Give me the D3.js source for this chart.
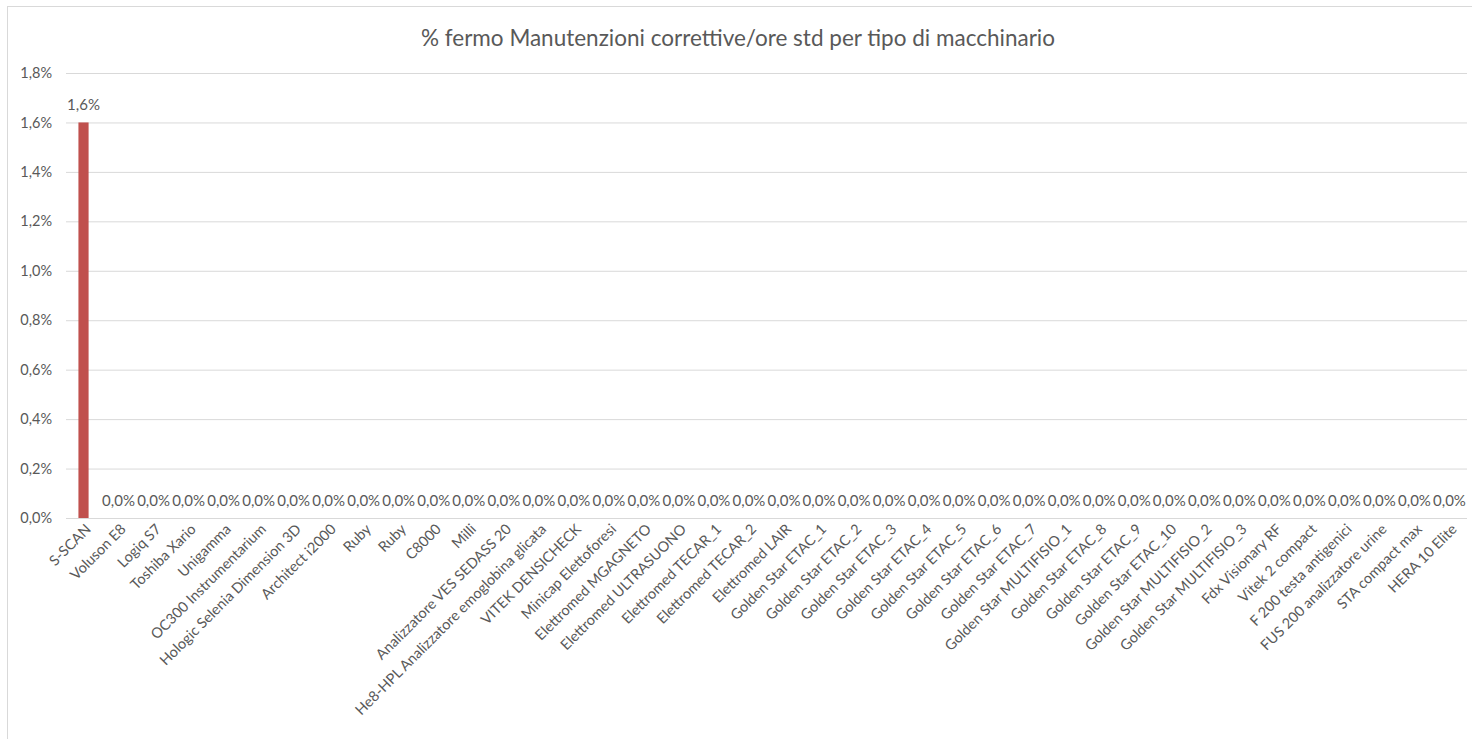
<!DOCTYPE html>
<head>
  <meta charset="utf-8">
  <script src="https://d3js.org/d3.v7.min.js"></script>
  <style>
  body { margin: 0; background: #fff; }
  text { font-family: Lato, "Open Sans", sans-serif; fill: #595959; }
  .grid line { stroke: #d9d9d9; stroke-width: 1px; }
  .tick text { font-size: 14.5px; }
  </style>
</head>
<body>
  <script>
    // chart data
    var title = "% fermo Manutenzioni correttive/ore std per tipo di macchinario";
    var machines = ["S-SCAN", "Voluson E8", "Logiq S7", "Toshiba Xario", "Unigamma",
      "OC300 Instrumentarium", "Hologic Selenia Dimension 3D", "Architect i2000", "Ruby", "Ruby",
      "C8000", "Milli", "Analizzatore VES SEDASS 20", "He8-HPL Analizzatore emoglobina glicata",
      "VITEK DENSICHECK", "Minicap Elettoforesi", "Elettromed MGAGNETO", "Elettromed ULTRASUONO",
      "Elettromed TECAR_1", "Elettromed TECAR_2", "Elettromed LAIR", "Golden Star ETAC_1",
      "Golden Star ETAC_2", "Golden Star ETAC_3", "Golden Star ETAC_4", "Golden Star ETAC_5",
      "Golden Star ETAC_6", "Golden Star ETAC_7", "Golden Star MULTIFISIO_1", "Golden Star ETAC_8",
      "Golden Star ETAC_9", "Golden Star ETAC_10", "Golden Star MULTIFISIO_2", "Golden Star MULTIFISIO_3",
      "Fdx Visionary RF", "Vitek 2 compact", "F 200 testa antigenici", "FUS 200 analizzatore urine",
      "STA compact max", "HERA 10 Elite"];
    var fermo = [0.016, 0, 0, 0, 0, 0, 0, 0, 0, 0, 0, 0, 0, 0, 0, 0, 0, 0, 0, 0,
      0, 0, 0, 0, 0, 0, 0, 0, 0, 0, 0, 0, 0, 0, 0, 0, 0, 0, 0, 0];
    var yTicks = [0, 0.002, 0.004, 0.006, 0.008, 0.010, 0.012, 0.014, 0.016, 0.018];

    var W = 1472, H = 739;
    var margin = {top: 73, right: 5, bottom: 221, left: 66};
    var width = W - margin.left - margin.right,
        height = H - margin.top - margin.bottom;

    var fmt = function(v) { return d3.format(".1%")(v).replace(".", ","); };

    var svg = d3.select("body").append("svg")
      .attr("width", W).attr("height", H);

    // chart border
    svg.append("rect")
      .attr("x", 7.5).attr("y", 6.5)
      .attr("width", W).attr("height", H + 20)
      .attr("fill", "none").attr("stroke", "#d9d9d9");

    svg.append("text")
      .attr("x", W / 2 + 2).attr("y", 46)
      .attr("text-anchor", "middle")
      .style("font-size", "22.5px")
      .text(title);

    var g = svg.append("g")
      .attr("transform", "translate(" + margin.left + "," + margin.top + ")");

    var xScale = d3.scaleBand()
      .domain(d3.range(machines.length))
      .range([0, width])
      .paddingInner(0.71).paddingOuter(0.355);

    var yScale = d3.scaleLinear()
      .domain([0, 0.018])
      .range([height, 0]);

    // gridlines + y labels
    var yAxis = g.append("g")
      .attr("class", "grid")
      .call(d3.axisLeft(yScale).tickValues(yTicks).tickSize(-width).tickPadding(14).tickFormat(fmt));
    yAxis.select(".domain").remove();
    yAxis.selectAll(".tick line").attr("stroke", "#d9d9d9");
    yAxis.selectAll(".tick text").attr("fill", "#595959");

    // x axis labels
    var xAxis = g.append("g")
      .attr("transform", "translate(0," + height + ")")
      .call(d3.axisBottom(xScale).tickSize(0).tickFormat(function(i) { return machines[i]; }));
    xAxis.select(".domain").remove();
    xAxis.selectAll(".tick text")
      .attr("fill", "#595959")
      .attr("text-anchor", "end")
      .attr("dx", "0.3em")
      .attr("dy", "0.3em")
      .attr("transform", "translate(0,10) rotate(-45)");

    // bars
    g.selectAll(".bar")
      .data(fermo)
      .enter().append("rect")
      .attr("class", "bar")
      .attr("x", function(d, i) { return xScale(i); })
      .attr("width", xScale.bandwidth())
      .attr("y", function(d) { return yScale(d); })
      .attr("height", function(d) { return height - yScale(d); })
      .attr("fill", "#c0504d");

    // value labels
    g.selectAll(".lbl")
      .data(fermo)
      .enter().append("text")
      .attr("class", "lbl")
      .attr("x", function(d, i) { return xScale(i) + xScale.bandwidth() / 2; })
      .attr("y", function(d) { return yScale(d) - 12; })
      .attr("text-anchor", "middle")
      .style("font-size", "15px")
      .text(fmt);
  </script>
</body>
